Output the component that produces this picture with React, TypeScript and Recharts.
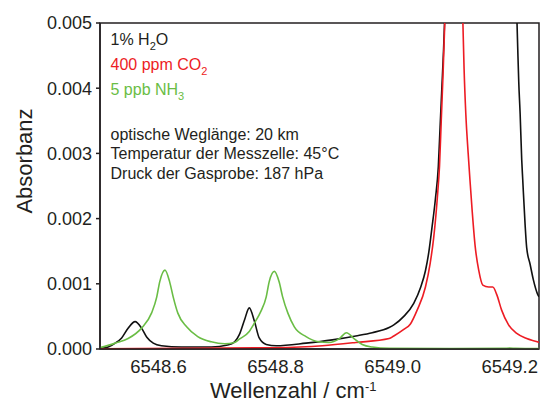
import { Label, Line, LineChart, ReferenceArea, XAxis, YAxis } from "recharts";

document.body.style.margin = "0";

const FONT = '"Liberation Sans", Arial, Helvetica, sans-serif';
const INK = "#231f20";
const RED = "#ed1c24";
const GREEN = "#6abd45";

const xMajor = [6548.6, 6548.8, 6549.0, 6549.2];
const xMinor = [6548.7, 6548.9, 6549.1];
const yMajor = [0, 0.001, 0.002, 0.003, 0.004, 0.005];
const yMinor = [0.0005, 0.0015, 0.0025, 0.0035, 0.0045];

// 1% H2O
const h2oX = [
  6548.5, 6548.514, 6548.526, 6548.537, 6548.548, 6548.56, 6548.571, 6548.58,
  6548.591, 6548.605, 6548.639, 6548.69, 6548.718, 6548.73, 6548.738, 6548.747,
  6548.755, 6548.764, 6548.772, 6548.784, 6548.801, 6548.852, 6548.897,
  6548.937, 6548.965, 6548.994, 6549.002, 6549.019, 6549.036, 6549.048,
  6549.056, 6549.062, 6549.067, 6549.073, 6549.078, 6549.081, 6549.084,
  6549.087, 6549.089, 6549.097, 6549.11, 6549.15, 6549.19, 6549.203, 6549.2115,
  6549.2137, 6549.2154, 6549.2178, 6549.2205, 6549.2222, 6549.2263, 6549.229,
  6549.2348, 6549.2404, 6549.2472, 6549.25,
];
const h2oY = [
  0.00001, 0.00003, 0.00009, 0.00017, 0.00032, 0.00042, 0.00032, 0.00018,
  0.00009, 0.00005, 0.00003, 0.00003, 0.00006, 0.00011, 0.00022, 0.00045,
  0.00063, 0.00042, 0.00017, 0.00007, 0.00005, 0.00009, 0.00014, 0.0002,
  0.00025, 0.00033, 0.00037, 0.0005, 0.0007, 0.00095, 0.0012, 0.0015, 0.00185,
  0.0023, 0.0028, 0.0034, 0.004, 0.0046, 0.0051, 0.008, 0.014, 0.02, 0.014,
  0.008, 0.0053, 0.0046, 0.0041, 0.0036, 0.0029, 0.0026, 0.0019, 0.00155,
  0.0013, 0.00106, 0.00085, 0.0008,
];

// 400 ppm CO2
const co2X = [
  6548.5, 6548.65, 6548.798, 6548.88, 6548.937, 6548.994, 6549.002, 6549.019,
  6549.03, 6549.042, 6549.056, 6549.064, 6549.07, 6549.077, 6549.08, 6549.083,
  6549.086, 6549.089, 6549.094, 6549.104, 6549.114, 6549.12, 6549.122,
  6549.125, 6549.129, 6549.132, 6549.136, 6549.141, 6549.147, 6549.154,
  6549.164, 6549.171, 6549.178, 6549.186, 6549.198, 6549.212, 6549.229,
  6549.247, 6549.25,
];
const co2Y = [
  0.000003, 0.00001, 0.00002, 0.00005, 0.0001, 0.00016, 0.0002, 0.0003,
  0.00038, 0.0006, 0.00095, 0.00131, 0.0017, 0.0024, 0.0028, 0.0035, 0.0042,
  0.005, 0.007, 0.012, 0.007, 0.005, 0.0043, 0.0036, 0.003, 0.0026, 0.0021,
  0.00157, 0.00121, 0.00098, 0.00095, 0.00095, 0.00083, 0.0006, 0.00037,
  0.00024, 0.00016, 0.00011, 0.0001,
];

// 5 ppb NH3
const nh3X = [
  6548.5, 6548.526, 6548.548, 6548.571, 6548.588, 6548.597, 6548.602, 6548.611,
  6548.619, 6548.625, 6548.633, 6548.648, 6548.667, 6548.69, 6548.713, 6548.73,
  6548.738, 6548.755, 6548.764, 6548.775, 6548.784, 6548.789, 6548.798,
  6548.806, 6548.812, 6548.821, 6548.832, 6548.852, 6548.874, 6548.891,
  6548.909, 6548.921, 6548.934, 6548.948, 6548.965, 6548.994, 6549.1, 6549.19,
  6549.2, 6549.21, 6549.25,
];
const nh3Y = [
  0.00002, 0.00009, 0.00016, 0.00032, 0.00055, 0.0008, 0.00103, 0.00121,
  0.00103, 0.0008, 0.00055, 0.00034, 0.00019, 0.00011, 0.00008, 0.0001,
  0.00015, 0.00027, 0.0004, 0.00058, 0.0008, 0.00103, 0.00119, 0.00103, 0.0008,
  0.00055, 0.00034, 0.00019, 0.00011, 0.0001, 0.00016, 0.00025, 0.00016,
  0.00007, 0.00003, 0.00001, 0.000005, 0.00001, 0.000015, 0.00001, 0.000005,
];

const pairs = (xs: number[], ys: number[]) =>
  xs.map((x, i) => ({ x, y: ys[i] }));

const h2o = pairs(h2oX, h2oY);
const co2 = pairs(co2X, co2Y);
const nh3 = pairs(nh3X, nh3Y);

const X_DOMAIN: [number, number] = [6548.5, 6549.25];
const Y_DOMAIN: [number, number] = [0, 0.005];

function XTitle(props: any) {
  const vb = props.viewBox;
  return (
    <text
      x={vb.x + 110}
      y={vb.y + 48.5}
      fill={INK}
      fontSize={22}
      fontFamily={FONT}
    >
      Wellenzahl / cm
      <tspan fontSize={13} dy={-6.5}>
        -1
      </tspan>
    </text>
  );
}

function YTitle(props: any) {
  const vb = props.viewBox;
  const cx = vb.x + 31.5;
  const cy = vb.y + 138;
  return (
    <text
      x={cx}
      y={cy}
      transform={`rotate(-90 ${cx} ${cy})`}
      textAnchor="middle"
      fill={INK}
      fontSize={22}
      fontFamily={FONT}
    >
      Absorbanz
    </text>
  );
}

function Notes() {
  const t = { fontFamily: FONT, fontSize: 16 };
  return (
    <svg
      width={540}
      height={403}
      style={{ position: "absolute", left: 0, top: 0, pointerEvents: "none" }}
    >
      <text x={110.5} y={45} fill={INK} {...t}>
        1% H<tspan fontSize={11} dy={5}>2</tspan>
        <tspan dy={-5}>O</tspan>
      </text>
      <text x={110.5} y={70} fill={RED} {...t}>
        400 ppm CO<tspan fontSize={11} dy={5}>2</tspan>
      </text>
      <text x={110.5} y={95} fill={GREEN} {...t}>
        5 ppb NH<tspan fontSize={11} dy={5}>3</tspan>
      </text>
      <text x={110.5} y={140} fill={INK} {...t}>
        optische Weglänge: 20 km
      </text>
      <text x={110.5} y={159} fill={INK} {...t}>
        Temperatur der Messzelle: 45°C
      </text>
      <text x={110.5} y={178.5} fill={INK} {...t}>
        Druck der Gasprobe: 187 hPa
      </text>
    </svg>
  );
}

export default function App() {
  const tickFont = { fontFamily: FONT, fill: INK };
  return (
    <div style={{ position: "relative", width: 540, height: 403, background: "#fff" }}>
      <LineChart
        width={540}
        height={403}
        margin={{ top: 23, right: 1, bottom: 0, left: 0 }}
      >
        <XAxis
          xAxisId="main"
          dataKey="x"
          type="number"
          domain={X_DOMAIN}
          allowDataOverflow
          ticks={xMajor}
          interval={0}
          height={54}
          tickLine={false}
          tickSize={10}
          tickMargin={1}
          axisLine={{ stroke: INK, strokeWidth: 1.5 }}
          tick={{ ...tickFont, fontSize: 18.5 }}
          tickFormatter={(v: number) => v.toFixed(1)}
        >
          <Label content={XTitle} />
        </XAxis>
        <XAxis
          xAxisId="majorTicks"
          dataKey="x"
          type="number"
          domain={X_DOMAIN}
          allowDataOverflow
          ticks={xMajor}
          interval={0}
          mirror
          height={0}
          tick={false}
          axisLine={false}
          tickSize={5}
          tickLine={{ stroke: INK, strokeWidth: 1.5 }}
        />
        <XAxis
          xAxisId="minorTicks"
          dataKey="x"
          type="number"
          domain={X_DOMAIN}
          allowDataOverflow
          ticks={xMinor}
          interval={0}
          mirror
          height={0}
          tick={false}
          axisLine={false}
          tickSize={3}
          tickLine={{ stroke: INK, strokeWidth: 1.5 }}
        />
        <YAxis
          yAxisId="main"
          type="number"
          domain={Y_DOMAIN}
          allowDataOverflow
          ticks={yMajor}
          interval={0}
          width={100}
          tickSize={4}
          tickMargin={4}
          tickLine={{ stroke: INK, strokeWidth: 1.5 }}
          axisLine={{ stroke: INK, strokeWidth: 1.5 }}
          tick={{ ...tickFont, fontSize: 18 }}
          tickFormatter={(v: number) => v.toFixed(3)}
        >
          <Label content={YTitle} />
        </YAxis>
        <YAxis
          yAxisId="minorTicks"
          type="number"
          domain={Y_DOMAIN}
          allowDataOverflow
          ticks={yMinor}
          interval={0}
          mirror
          width={0}
          tick={false}
          axisLine={false}
          tickSize={3}
          tickLine={{ stroke: INK, strokeWidth: 1.5 }}
        />
        <ReferenceArea
          xAxisId="main"
          yAxisId="main"
          x1={X_DOMAIN[0]}
          x2={X_DOMAIN[1]}
          y1={Y_DOMAIN[0]}
          y2={Y_DOMAIN[1]}
          fill="none"
          stroke={INK}
          strokeWidth={1.5}
        />
        <Line
          xAxisId="main"
          yAxisId="main"
          data={h2o}
          dataKey="y"
          type="monotone"
          stroke="#111"
          strokeWidth={1.6}
          dot={false}
          isAnimationActive={false}
        />
        <Line
          xAxisId="main"
          yAxisId="main"
          data={co2}
          dataKey="y"
          type="monotone"
          stroke={RED}
          strokeWidth={1.6}
          dot={false}
          isAnimationActive={false}
        />
        <Line
          xAxisId="main"
          yAxisId="main"
          data={nh3}
          dataKey="y"
          type="monotone"
          stroke={GREEN}
          strokeWidth={1.6}
          dot={false}
          isAnimationActive={false}
        />
      </LineChart>
      <Notes />
    </div>
  );
}
